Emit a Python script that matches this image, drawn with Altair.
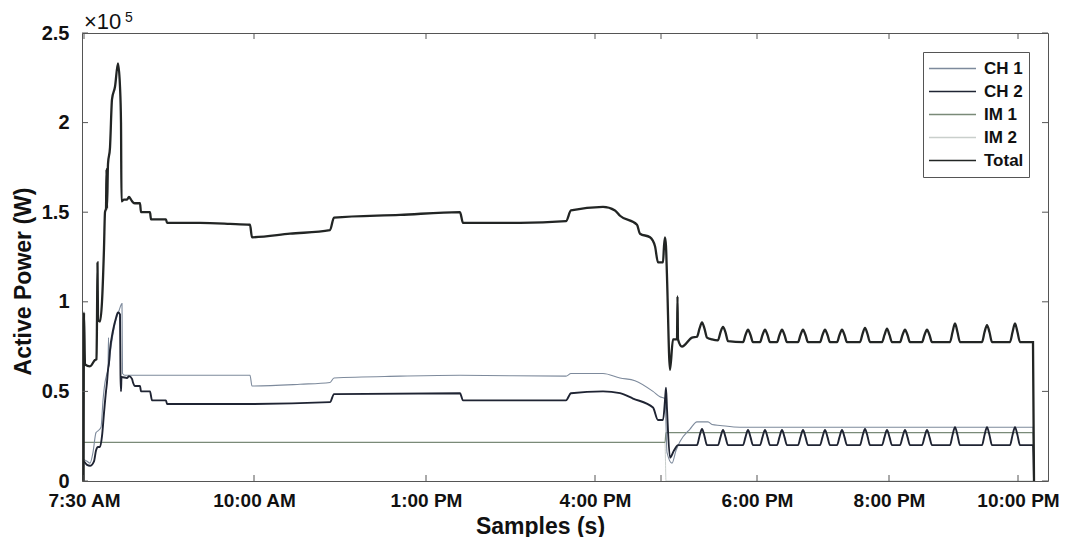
import altair as alt
import pandas as pd

# ---------------- data (x = sample position, y = active power in 1e5 W) ----------------
series_order = ["CH 1", "CH 2", "IM 1", "IM 2", "Total"]
series_colors = ["#7d8a9c", "#1f2433", "#7a8a78", "#c9cfcc", "#222524"]

x_tick_pos = [84, 254, 426, 595, 757, 889, 1018]
x_tick_lab = ["7:30 AM", "10:00 AM", "1:00 PM", "4:00 PM", "6:00 PM", "8:00 PM", "10:00 PM"]
x_minor_tick = [84, 254, 426, 595, 661, 757, 889, 1018]
y_tick_pos = [0, 0.5, 1, 1.5, 2, 2.5]

total_pts = [
    (83.6, 0.0), (84, 0.94), (85, 0.65), (90, 0.64), (95, 0.675), (96.5, 0.68), (97, 0.90), (97.5, 1.22), (98, 0.90), (100, 0.89),
    (102, 1.00), (104, 1.30), (105, 1.50), (106, 1.52), (106.5, 1.74), (107, 1.52), (108, 1.77), (110, 1.86), (112, 2.13), (115, 2.20),
    (118, 2.33), (120, 2.20), (121, 2.00), (121.5, 1.56), (124, 1.57), (127, 1.57), (129, 1.585), (131, 1.57), (133, 1.555), (135, 1.55),
    (140, 1.55), (141, 1.50), (150, 1.50), (151, 1.46), (166, 1.46), (167, 1.44), (200, 1.44), (230, 1.435), (250, 1.43), (252, 1.36),
    (290, 1.38), (330, 1.40), (334, 1.47), (400, 1.485), (460, 1.50), (463, 1.44), (520, 1.44), (566, 1.45), (571, 1.51), (603, 1.53),
    (615, 1.51), (620, 1.48), (637, 1.43), (640, 1.38), (650, 1.36), (655, 1.31), (658, 1.22), (663, 1.22), (664, 1.31), (665, 1.36),
    (666, 1.31), (667, 1.14), (670, 0.62), (673, 0.79), (677, 0.79), (677.5, 1.03), (678, 0.79), (682, 0.75), (692, 0.80),
    (697, 0.805), (699.5, 0.85), (702, 0.885), (704.5, 0.85), (707, 0.80), (712, 0.79),
    (718, 0.785), (720.5, 0.83), (723, 0.86), (725.5, 0.83), (728, 0.78),
    (743, 0.775), (745.5, 0.815), (748, 0.845), (750.5, 0.815), (753, 0.775),
    (760, 0.775), (762.5, 0.815), (765, 0.845), (767.5, 0.815), (770, 0.775),
    (777, 0.775), (779.5, 0.815), (782, 0.845), (784.5, 0.815), (787, 0.775),
    (798, 0.775), (800.5, 0.815), (803, 0.845), (805.5, 0.815), (808, 0.775),
    (820, 0.775), (822.5, 0.815), (825, 0.845), (827.5, 0.815), (830, 0.775),
    (837, 0.775), (839.5, 0.815), (842, 0.845), (844.5, 0.815), (847, 0.775),
    (860, 0.775), (862.5, 0.82), (865, 0.855), (867.5, 0.82), (870, 0.775),
    (882, 0.775), (884.5, 0.815), (887, 0.85), (889.5, 0.815), (892, 0.775),
    (900, 0.775), (902.5, 0.815), (905, 0.845), (907.5, 0.815), (910, 0.775),
    (922, 0.775), (924.5, 0.815), (927, 0.845), (929.5, 0.815), (932, 0.775),
    (950, 0.775), (952.5, 0.83), (955, 0.88), (957.5, 0.83), (960, 0.775),
    (982, 0.775), (984.5, 0.83), (987, 0.87), (989.5, 0.83), (992, 0.775),
    (1010, 0.775), (1012.5, 0.83), (1015, 0.88), (1017.5, 0.83), (1020, 0.775),
    (1033, 0.775), (1034, 0.0),
]

ch2_pts = [
    (84, 0.11), (87, 0.09), (90, 0.085), (94, 0.11), (96, 0.17), (98, 0.19), (100, 0.19), (102, 0.25), (104, 0.38), (106, 0.50),
    (107, 0.55), (108, 0.62), (109, 0.66), (110, 0.73), (113, 0.84), (116, 0.91), (118, 0.94), (120, 0.93), (120.5, 0.59), (121, 0.50),
    (121.5, 0.58), (127, 0.575), (129, 0.585), (132, 0.57), (133, 0.55), (135, 0.53), (140, 0.53), (141, 0.50), (150, 0.50), (152, 0.45),
    (166, 0.45), (167, 0.43), (250, 0.43), (330, 0.44), (334, 0.485), (460, 0.49), (463, 0.45), (566, 0.45), (571, 0.49), (603, 0.50),
    (620, 0.49), (633, 0.46), (653, 0.41), (658, 0.34), (663, 0.34), (665, 0.45), (666, 0.52), (667, 0.40), (670, 0.13), (674, 0.17),
    (678, 0.20), (697, 0.20), (699.5, 0.25), (702, 0.29), (704.5, 0.25), (707, 0.20),
    (718, 0.20), (720.5, 0.245), (723, 0.285), (725.5, 0.245), (728, 0.20),
    (743, 0.20), (745.5, 0.245), (748, 0.285), (750.5, 0.245), (753, 0.20),
    (760, 0.20), (762.5, 0.245), (765, 0.285), (767.5, 0.245), (770, 0.20),
    (777, 0.20), (779.5, 0.245), (782, 0.285), (784.5, 0.245), (787, 0.20),
    (798, 0.20), (800.5, 0.245), (803, 0.285), (805.5, 0.245), (808, 0.20),
    (820, 0.20), (822.5, 0.245), (825, 0.285), (827.5, 0.245), (830, 0.20),
    (837, 0.20), (839.5, 0.245), (842, 0.285), (844.5, 0.245), (847, 0.20),
    (860, 0.20), (862.5, 0.25), (865, 0.29), (867.5, 0.25), (870, 0.20),
    (882, 0.20), (884.5, 0.245), (887, 0.285), (889.5, 0.245), (892, 0.20),
    (900, 0.20), (902.5, 0.245), (905, 0.285), (907.5, 0.245), (910, 0.20),
    (922, 0.20), (924.5, 0.245), (927, 0.285), (929.5, 0.245), (932, 0.20),
    (950, 0.20), (952.5, 0.255), (955, 0.30), (957.5, 0.255), (960, 0.20),
    (982, 0.20), (984.5, 0.255), (987, 0.30), (989.5, 0.255), (992, 0.20),
    (1010, 0.20), (1012.5, 0.255), (1015, 0.30), (1017.5, 0.255), (1020, 0.20),
    (1033, 0.20), (1034, 0.0),
]

ch1_pts = [
    (84, 0.12), (87, 0.11), (90, 0.10), (93, 0.16), (96, 0.27), (98, 0.28), (101, 0.30), (103, 0.45), (105, 0.55), (107, 0.60),
    (108, 0.62), (108.5, 0.80), (109, 0.64), (110, 0.70), (113, 0.82), (116, 0.90), (119, 0.95), (122, 0.99), (122.5, 0.60), (125, 0.59),
    (250, 0.59), (252, 0.53), (300, 0.54), (330, 0.55), (334, 0.575), (400, 0.585), (460, 0.59), (566, 0.585), (571, 0.60), (603, 0.60),
    (620, 0.575), (635, 0.56), (653, 0.50), (660, 0.47), (665, 0.46), (667, 0.16), (672, 0.10), (676, 0.17), (680, 0.22), (690, 0.29),
    (697, 0.33), (708, 0.33), (712, 0.315), (720, 0.31), (740, 0.30), (1033, 0.30), (1034, 0.0),
]

im1_pts = [(84, 0.215), (665, 0.215), (666, 0.27), (1033, 0.27), (1034, 0.0)]
im2_pts = [(84, 0.215), (665, 0.215), (666, 0.0), (1034, 0.0)]

# ---------------- build table ----------------
rows = []
for name, pts in zip(series_order, [ch1_pts, ch2_pts, im1_pts, im2_pts, total_pts]):
    for i, (sx, py) in enumerate(pts):
        rows.append({"series": name, "s": sx, "p": py, "i": i})
df = pd.DataFrame(rows)

FONT = "Liberation Sans"

label_expr = "''"
for pos, lab in reversed(list(zip(x_tick_pos, x_tick_lab))):
    label_expr = f"datum.value == {pos} ? '{lab}' : {label_expr}"

X_ENC = alt.X(
    "s:Q",
    scale=alt.Scale(domain=[82, 1048], nice=False, zero=False),
    axis=alt.Axis(
        values=x_tick_pos, labelExpr=label_expr, title="Samples (s)",
        ticks=False, tickSize=0, domain=False, grid=False,
        labelFont=FONT, labelFontSize=19, labelFontWeight="bold", labelColor="#111",
        labelPadding=10, labelFlush=False, labelOverlap=False,
        titleFont=FONT, titleFontSize=23, titleFontWeight="bold", titleColor="#111",
        titleX=458, titleY=52, titleBaseline="alphabetic", titleAlign="center",
    ),
)
Y_ENC = alt.Y(
    "p:Q",
    scale=alt.Scale(domain=[0, 2.5], nice=False),
    axis=alt.Axis(
        values=y_tick_pos, format="~g", title="Active Power (W)",
        ticks=False, tickSize=0, domain=False, grid=False,
        labelFont=FONT, labelFontSize=20, labelFontWeight="bold", labelColor="#111",
        labelPadding=13,
        titleFont=FONT, titleFontSize=23, titleFontWeight="bold", titleColor="#111",
        titleX=-59, titleY=248, titleAngle=270, titleBaseline="middle", titleAlign="center",
    ),
)

LEGEND = alt.Legend(
    title=None, orient="none", legendX=841, legendY=19,
    symbolType="stroke", symbolSize=2209, symbolStrokeWidth=1.5, clipHeight=23,
    labelFont=FONT, labelFontSize=17, labelFontWeight="bold", labelColor="#111",
    labelOffset=7, padding=5, rowPadding=0,
    strokeColor="#555", fillColor="white",
)
COLOR = alt.Color(
    "series:N",
    scale=alt.Scale(domain=series_order, range=series_colors),
    legend=LEGEND,
)

layers = []
for name, w in zip(["IM 2", "IM 1", "CH 1", "CH 2", "Total"], [1.0, 1.2, 1.1, 1.9, 2.3]):
    layers.append(
        alt.Chart(df)
        .transform_filter(alt.datum.series == name)
        .mark_line(strokeWidth=w, clip=True, interpolate="monotone")
        .encode(x=X_ENC, y=Y_ENC, color=COLOR, order=alt.Order("i:Q"))
    )

# inward tick marks on all four sides
ytick_df = pd.DataFrame({"p": y_tick_pos})
xtick_df = pd.DataFrame({"s": x_minor_tick})
TICK = "#555"
layers.append(alt.Chart(ytick_df).mark_rule(color=TICK, strokeWidth=1).encode(y=Y_ENC, x=alt.value(0), x2=alt.value(6)))
layers.append(alt.Chart(ytick_df).mark_rule(color=TICK, strokeWidth=1).encode(y=Y_ENC, x=alt.value(960), x2=alt.value(966)))
layers.append(alt.Chart(xtick_df).mark_rule(color=TICK, strokeWidth=1).encode(x=X_ENC, y=alt.value(448), y2=alt.value(442)))
layers.append(alt.Chart(xtick_df).mark_rule(color=TICK, strokeWidth=1).encode(x=X_ENC, y=alt.value(0), y2=alt.value(6)))

# exponent annotation "x10^5"
layers.append(
    alt.Chart(pd.DataFrame({"t": ["×10"]}))
    .mark_text(font=FONT, fontSize=22, align="left", baseline="alphabetic", color="#111")
    .encode(text="t:N", x=alt.value(2), y=alt.value(-4))
)
layers.append(
    alt.Chart(pd.DataFrame({"t": ["5"]}))
    .mark_text(font=FONT, fontSize=14, align="left", baseline="alphabetic", color="#111")
    .encode(text="t:N", x=alt.value(43), y=alt.value(-11))
)

chart = (
    alt.layer(*layers)
    .properties(
        width=966, height=448,
        autosize=alt.AutoSizeParams(type="none"),
        padding={"left": 74, "top": 25, "right": 20, "bottom": 56},
        background="white",
    )
    .configure_view(stroke="#555", strokeWidth=1)
)

chart.save("out.html", embed_options={"renderer": "svg", "actions": False})
